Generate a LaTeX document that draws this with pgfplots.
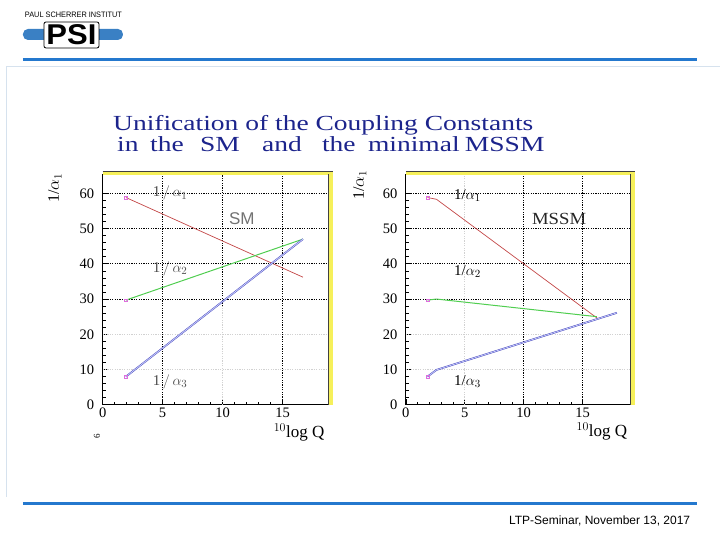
\documentclass[border=0pt]{standalone}
\usepackage{pgfplots}
\pgfplotsset{compat=1.18}
\usepackage{graphicx}
\usepackage{fontspec}
\setmainfont{Liberation Serif}
\newfontfamily\arial{Liberation Sans}
\definecolor{psiblue}{RGB}{36,120,206}
\definecolor{barblue}{RGB}{58,128,196}
\definecolor{framec}{RGB}{214,226,238}
\definecolor{navy}{RGB}{28,36,140}
\definecolor{yel}{RGB}{246,240,90}
\definecolor{aone}{RGB}{196,72,72}
\definecolor{atwo}{RGB}{80,206,80}
\definecolor{athree}{RGB}{70,70,190}
\definecolor{athreein}{RGB}{200,205,250}
\definecolor{markc}{RGB}{222,110,222}
\pgfplotsset{psiax/.style={
  anchor=south west, scale only axis, height=231pt,
  xmin=0, ymin=0, ymax=65.5,
  axis x line*=bottom, axis y line*=left,
  axis line style={-, black, line width=0.8pt},
  xtick={0,5,10,15}, ytick={0,10,20,30,40,50,60},
  minor x tick num=4, minor y tick num=4,
  tick align=inside, major tick length=6pt, minor tick length=3pt,
  every tick/.style={black, line width=0.6pt},
  tick label style={font=\fontsize{14.5}{14.5}\selectfont},
  yticklabel style={xshift=-5pt},
  /pgf/number format/assume math mode=true,
  clip=false,
}}
\tikzset{gd/.style={black, dash pattern=on 1.2pt off 1.2pt, line width=0.7pt},
         gl/.style={black!18, dash pattern=on 1.2pt off 1.2pt, line width=0.7pt}}
\newcommand{\lbl}[1]{\fontsize{15}{15}\selectfont 1/$\alpha_{#1}$}
\newcommand{\lblb}[1]{\fontsize{15}{15}\selectfont 1\,$\big/$\,$\alpha_{#1}$}
\newcommand{\tw}[1]{\scalebox{1.28}[1]{#1}}
\begin{document}
\begin{tikzpicture}[x=1pt,y=1pt]
\fill[white] (0,0) rectangle (720,540);
% logo
\node[anchor=center, inner sep=0pt] at (73.5,525) {\resizebox{97pt}{5.5pt}{\arial PAUL SCHERRER INSTITUT}};
\fill[barblue, rounded corners=5pt] (23,500) rectangle (123,511);
\fill[white, draw=black, line width=0.8pt, rounded corners=2pt] (44,492) rectangle (99,518);
\node[inner sep=0pt] at (71.5,505) {\resizebox{50pt}{20pt}{\arial\bfseries PSI}};
% lines and frame
\draw[psiblue, line width=3pt] (23,480) -- (697,480);
\draw[psiblue, line width=3pt] (23,36) -- (697,36);
\draw[framec, line width=0.7pt] (6.5,43) -- (6.5,474) -- (720,474);
\node[anchor=base east, font=\arial\fontsize{12}{12}\selectfont] at (694,15) {LTP-Seminar, November 13, 2017};
% title
\begin{scope}[every node/.style={anchor=base west, inner sep=0pt, text=navy, font=\fontsize{21.5}{22}\selectfont}]
\node at (113,409) {\tw{Unification of the Coupling Constants}};
\node at (117,388.5) {\tw{in}};
\node at (150,388.5) {\tw{the}};
\node at (200,388.5) {\tw{SM}};
\node at (262,388.5) {\tw{and}};
\node at (322,388.5) {\tw{the}};
\node at (368,388.5) {\tw{minimal}};
\node at (465,388.5) {\tw{MSSM}};
\end{scope}
% axis labels
\node[rotate=90, font=\fontsize{16}{16}\selectfont] at (55,352) {1/$\alpha_1$};
\node[rotate=90, font=\fontsize{16}{16}\selectfont] at (360,355) {1/$\alpha_1$};
\node[anchor=base east, font=\fontsize{17}{17}\selectfont] at (328,102) {$^{10}$log Q};
\node[anchor=base east, font=\fontsize{17}{17}\selectfont] at (631,103) {$^{10}$log Q};
\node[rotate=90, font=\fontsize{9}{9}\selectfont] at (97,104) {6};
% ---------------- SM ----------------
\begin{axis}[psiax, at={(102.7pt,135pt)}, width=225.6pt, xmax=18.8]
\draw[gl] (axis cs:0,10) -- (axis cs:18.8,10);
\draw[gl] (axis cs:0,20) -- (axis cs:18.8,20);
\draw[gl] (axis cs:10,0) -- (axis cs:10,28);
\draw[gd] (axis cs:0,30) -- (axis cs:18.8,30);
\draw[gd] (axis cs:0,40) -- (axis cs:18.8,40);
\draw[gd] (axis cs:0,50) -- (axis cs:18.8,50);
\draw[gd] (axis cs:0,60) -- (axis cs:18.8,60);
\draw[gd] (axis cs:5,0) -- (axis cs:5,65.5);
\draw[gd] (axis cs:15,0) -- (axis cs:15,65.5);
\draw[gd] (axis cs:10,28) -- (axis cs:10,65.5);
\fill[yel] ([yshift=-1pt]rel axis cs:0,1) rectangle ([xshift=4.5pt,yshift=2.5pt]rel axis cs:1,1);
\fill[yel] (rel axis cs:1,0) rectangle ([xshift=4.5pt]rel axis cs:1,1);
\draw[black!75, line width=0.5pt] (rel axis cs:1,0) -- (rel axis cs:1,1);
\draw[black!75, line width=0.5pt] ([yshift=2.5pt]rel axis cs:0,1) -- ([xshift=4.5pt,yshift=2.5pt]rel axis cs:1,1);
\addplot[aone, line width=0.7pt] coordinates {(1.94,58.8) (16.7,36.2)};
\addplot[atwo, line width=1pt] coordinates {(1.94,29.7) (16.7,47)};
\addplot[athree, line width=0.45pt, double=athreein, double distance=0.8pt] coordinates {(1.94,8.0) (16.7,47)};
\addplot[only marks, mark=square, mark size=1.3pt, markc, line width=0.6pt] coordinates {(1.94,58.8) (1.94,29.7) (1.94,8.0)};
\node[anchor=west, text=black!70] at (axis cs:3.9,60) {\lblb{1}};
\node[anchor=west, text=black!70] at (axis cs:3.9,38.5) {\lblb{2}};
\node[anchor=west, text=black!70] at (axis cs:3.9,6.5) {\lblb{3}};
\node[text=black!55, font=\arial\fontsize{17}{17}\selectfont] at (axis cs:11.6,52.8) {SM};
\end{axis}
% ---------------- MSSM ----------------
\begin{axis}[psiax, at={(406pt,135pt)}, width=225pt, xmax=19.07]
\draw[gl] (axis cs:0,10) -- (axis cs:19.07,10);
\draw[gl] (axis cs:0,20) -- (axis cs:19.07,20);
\draw[gl] (axis cs:5,0) -- (axis cs:5,65.5);
\draw[gd] (axis cs:0,30) -- (axis cs:19.07,30);
\draw[gd] (axis cs:0,40) -- (axis cs:19.07,40);
\draw[gd] (axis cs:0,50) -- (axis cs:19.07,50);
\draw[gd] (axis cs:0,60) -- (axis cs:19.07,60);
\draw[gd] (axis cs:10,0) -- (axis cs:10,65.5);
\draw[gd] (axis cs:15,0) -- (axis cs:15,65.5);
\fill[yel] ([yshift=-1pt]rel axis cs:0,1) rectangle ([xshift=4.5pt,yshift=2.5pt]rel axis cs:1,1);
\fill[yel] (rel axis cs:1,0) rectangle ([xshift=4.5pt]rel axis cs:1,1);
\draw[black!75, line width=0.5pt] (rel axis cs:1,0) -- (rel axis cs:1,1);
\draw[black!75, line width=0.5pt] ([yshift=2.5pt]rel axis cs:0,1) -- ([xshift=4.5pt,yshift=2.5pt]rel axis cs:1,1);
\addplot[aone, line width=0.7pt] coordinates {(1.84,58.8) (2.6,58.3) (16.3,24.4)};
\addplot[atwo, line width=1pt] coordinates {(1.84,29.7) (2.6,30) (16.2,25)};
\addplot[athree, line width=0.45pt, double=athreein, double distance=0.8pt] coordinates {(1.84,8.0) (2.6,9.9) (17.9,26.1)};
\addplot[only marks, mark=square, mark size=1.3pt, markc, line width=0.6pt] coordinates {(1.84,58.8) (1.84,29.7) (1.84,8.0)};
\node[anchor=west] at (axis cs:3.8,59.3) {\lbl{1}};
\node[anchor=west] at (axis cs:3.8,37.7) {\lbl{2}};
\node[anchor=west] at (axis cs:3.8,6.5) {\lbl{3}};
\node[text=black!85, font=\fontsize{17}{17}\selectfont] at (axis cs:13,52.8) {\scalebox{1.1}[1]{MSSM}};
\end{axis}
\end{tikzpicture}
\end{document}
